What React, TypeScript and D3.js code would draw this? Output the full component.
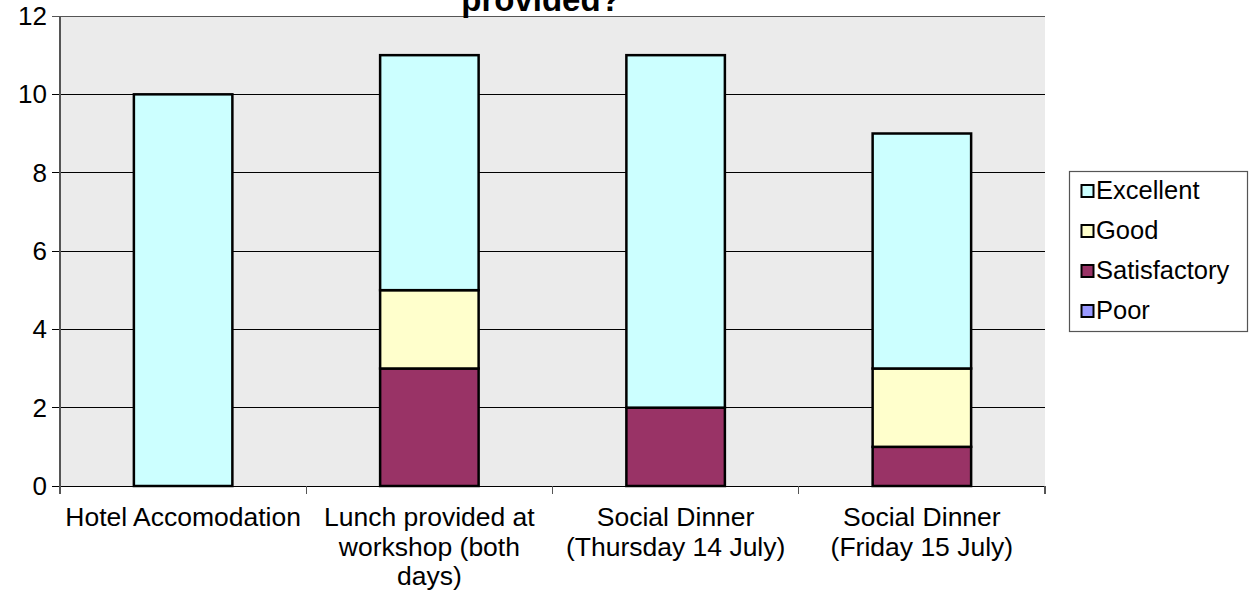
import React from "react";
import * as d3 from "d3";

const categories: string[][] = [
  ["Hotel Accomodation"],
  ["Lunch provided at", "workshop (both", "days)"],
  ["Social Dinner", "(Thursday 14 July)"],
  ["Social Dinner", "(Friday 15 July)"],
];
const excellent = [10, 6, 9, 6];
const good = [0, 2, 0, 2];
const satisfactory = [0, 3, 2, 1];
const poor = [0, 0, 0, 0];
const yTicks = [0, 2, 4, 6, 8, 10, 12];

const seriesNames = ["Poor", "Satisfactory", "Good", "Excellent"];
const seriesColors: Record<string, string> = {
  Excellent: "#CCFFFF",
  Good: "#FFFFCC",
  Satisfactory: "#993366",
  Poor: "#9999FF",
};

const W = 1250;
const H = 593;
const plot = { left: 60, right: 1045, top: 16, bottom: 486 };
const FONT = "Arial, 'Liberation Sans', sans-serif";

export default function App() {
  const rows = categories.map((c, i) => ({
    key: String(i),
    Poor: poor[i],
    Satisfactory: satisfactory[i],
    Good: good[i],
    Excellent: excellent[i],
  }));
  const stacked = d3.stack<any>().keys(seriesNames)(rows);

  const x = d3
    .scaleBand<string>()
    .domain(rows.map((r) => r.key))
    .range([plot.left, plot.right])
    .paddingInner(0.6)
    .paddingOuter(0.3);
  const y = d3.scaleLinear().domain([0, 12]).range([plot.bottom, plot.top]);
  const band = (plot.right - plot.left) / categories.length;

  const legendItems = ["Excellent", "Good", "Satisfactory", "Poor"];

  return (
    <svg
      width={W}
      height={H}
      style={{ position: "absolute", left: 0, top: 0, background: "#fff" }}
      fontFamily={FONT}
    >
      <rect
        x={plot.left}
        y={plot.top}
        width={plot.right - plot.left}
        height={plot.bottom - plot.top}
        fill="#EBEBEB"
      />
      {yTicks.map((t) => (
        <g key={t}>
          <line
            x1={plot.left - 8}
            x2={plot.right}
            y1={y(t)}
            y2={y(t)}
            stroke={t === 12 ? "#555" : "#000"}
            strokeWidth={1}
            shapeRendering="crispEdges"
          />
          <text x={47} y={y(t) + 9} fontSize={26} textAnchor="end" fill="#000">
            {t}
          </text>
        </g>
      ))}
      <line
        x1={plot.left}
        x2={plot.left}
        y1={plot.top}
        y2={plot.bottom + 8}
        stroke="#555"
        strokeWidth={1.2}
        shapeRendering="crispEdges"
      />
      {d3.range(categories.length + 1).map((i) => (
        <line
          key={i}
          x1={plot.left + i * band}
          x2={plot.left + i * band}
          y1={plot.bottom}
          y2={plot.bottom + 8}
          stroke="#555"
          strokeWidth={1.2}
          shapeRendering="crispEdges"
        />
      ))}
      {stacked.map((s) =>
        s.map((d, i) =>
          d[1] - d[0] > 0 ? (
            <rect
              key={s.key + i}
              x={x(String(i))!}
              y={y(d[1])}
              width={x.bandwidth()}
              height={y(d[0]) - y(d[1])}
              fill={seriesColors[s.key]}
              stroke="#000"
              strokeWidth={2.5}
            />
          ) : null
        )
      )}
      {categories.map((lines, i) => (
        <text
          key={i}
          x={x(String(i))! + x.bandwidth() / 2}
          y={526}
          fontSize={26.5}
          textAnchor="middle"
          fill="#000"
        >
          {lines.map((l, j) => (
            <tspan key={j} x={x(String(i))! + x.bandwidth() / 2} dy={j === 0 ? 0 : 29.5}>
              {l}
            </tspan>
          ))}
        </text>
      ))}
      <text x={541} y={11} fontSize={33} fontWeight="bold" textAnchor="middle" fill="#000">
        provided?
      </text>
      <rect x={1069.5} y={171.5} width={178} height={160} fill="#fff" stroke="#555" strokeWidth={1.2} />
      {legendItems.map((name, i) => (
        <g key={name}>
          <rect
            x={1081.5}
            y={185 + i * 40}
            width={12}
            height={12}
            fill={seriesColors[name]}
            stroke="#000"
            strokeWidth={2}
          />
          <text x={1096} y={199 + i * 40} fontSize={25.5} fill="#000">
            {name}
          </text>
        </g>
      ))}
    </svg>
  );
}
